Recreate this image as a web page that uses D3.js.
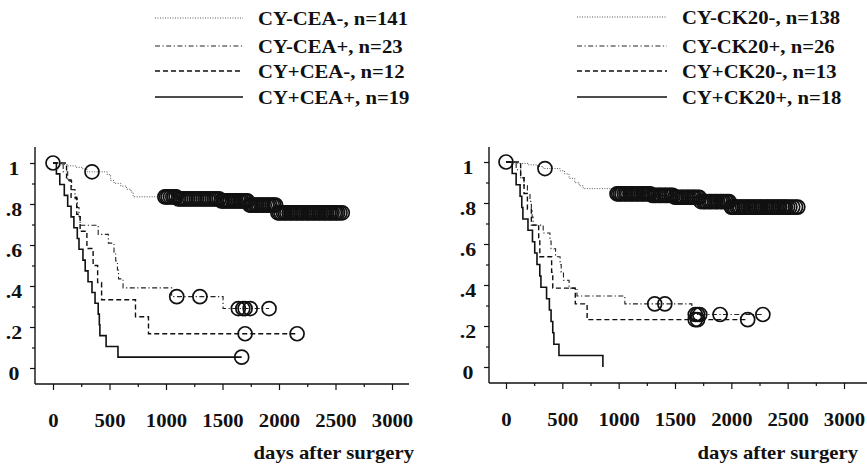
<!DOCTYPE html>
<html>
<head>
<meta charset="utf-8">
<script src="https://cdn.jsdelivr.net/npm/d3@7"></script>
<style>
  body { margin: 0; background: #fff; }
  svg text { font-family: "Times New Roman", "Liberation Serif", serif; font-weight: 700; fill: #111; }
</style>
</head>
<body>
<svg width="867" height="468"></svg>
<script>
// legend labels
const ceaLabels = ["CY-CEA-, n=141", "CY-CEA+, n=23", "CY+CEA-, n=12", "CY+CEA+, n=19"];
const ck20Labels = ["CY-CK20-, n=138", "CY-CK20+, n=26", "CY+CK20-, n=13", "CY+CK20+, n=18"];

const xTicks = [0, 500, 1000, 1500, 2000, 2500, 3000];
const xMinorTicks = [250, 750, 1250, 1750, 2250, 2750];
const yTicks = [0, 0.2, 0.4, 0.6, 0.8, 1];
const yTickLabels = ["0", ".2", ".4", ".6", ".8", "1"];
const yMinorTicks = [0.1, 0.3, 0.5, 0.7, 0.9];

// Kaplan-Meier steps [day, survival] and censored days, CEA panel
const ceaNegNegSteps = [[0,1],[60,.993],[130,.986],[200,.979],[260,.972],[300,.957],[480,.943],[510,.915],[540,.901],[600,.887],[650,.872],[690,.858],[710,.835],[1100,.825],[1480,.815],[1740,.795],[1990,.757]];
const ceaNegNegCensor = [0,345,990,1005,1020,1040,1060,1075,1090,1110,1130,1150,1170,1190,1210,1230,1250,1270,1290,1310,1330,1350,1370,1390,1410,1430,1450,1470,1490,1505,1520,1540,1555,1570,1590,1605,1620,1640,1655,1670,1690,1705,1720,1740,1755,1770,1790,1805,1820,1840,1855,1870,1890,1905,1920,1940,1955,1970,1990,2005,2020,2040,2055,2070,2090,2105,2120,2140,2155,2170,2190,2205,2220,2240,2255,2270,2290,2305,2320,2340,2355,2370,2390,2405,2420,2440,2455,2470,2490,2505,2520,2540,2560];
const ceaNegPosSteps = [[0,1],[90,.957],[130,.913],[165,.87],[195,.826],[215,.783],[230,.739],[240,.696],[400,.652],[490,.609],[540,.565],[555,.522],[570,.478],[580,.435],[620,.391],[1050,.348],[1505,.29]];
const ceaNegPosCensor = [1095,1300,1640,1680,1700,1745,1912];
const ceaPosNegSteps = [[0,1],[120,.917],[160,.833],[210,.75],[240,.667],[300,.583],[355,.5],[395,.417],[430,.333],[730,.25],[845,.167]];
const ceaPosNegCensor = [1700,2160];
const ceaPosPosSteps = [[0,1],[30,.947],[60,.895],[100,.842],[130,.789],[160,.737],[185,.684],[215,.632],[230,.579],[265,.526],[285,.474],[310,.421],[345,.368],[372,.316],[400,.263],[410,.211],[415,.158],[470,.105],[575,.053]];
const ceaPosPosCensor = [1670];

// CK20 panel
const ck20NegNegSteps = [[0,1],[100,.993],[200,.986],[280,.978],[330,.968],[480,.957],[520,.942],[560,.92],[610,.899],[650,.884],[685,.87],[980,.845],[1300,.837],[1500,.828],[1720,.807],[1990,.78]];
const ck20NegNegCensor = [0,346,985,1000,1015,1030,1050,1065,1080,1100,1115,1130,1150,1165,1180,1200,1215,1230,1250,1265,1280,1300,1315,1330,1350,1365,1380,1400,1415,1430,1450,1465,1480,1500,1515,1530,1550,1565,1580,1600,1615,1630,1650,1665,1680,1700,1715,1730,1750,1765,1780,1800,1815,1830,1850,1865,1880,1900,1915,1930,1950,1965,1980,2000,2015,2030,2050,2065,2080,2100,2115,2130,2150,2165,2180,2200,2215,2230,2250,2265,2280,2300,2315,2330,2350,2365,2380,2400,2415,2430,2450,2465,2480,2500,2520,2545,2570,2590];
const ck20NegPosSteps = [[0,1],[90,.962],[130,.923],[160,.885],[190,.846],[213,.808],[225,.769],[232,.731],[240,.692],[330,.654],[390,.615],[400,.577],[440,.538],[480,.5],[490,.462],[510,.423],[560,.385],[630,.346],[1055,.308],[1650,.256]];
const ck20NegPosCensor = [1320,1410,1680,1700,1720,1900,2280];
const ck20PosNegSteps = [[0,1],[130,.923],[160,.846],[190,.769],[225,.692],[290,.615],[300,.538],[405,.462],[415,.385],[615,.308],[720,.231]];
const ck20PosNegCensor = [1680,1700,2145];
const ck20PosPosSteps = [[0,1],[55,.944],[90,.889],[125,.833],[140,.778],[150,.722],[195,.667],[235,.611],[255,.556],[275,.5],[300,.444],[310,.389],[360,.333],[385,.278],[400,.222],[415,.167],[425,.111],[470,.056],[860,0]];
const ck20PosPosCensor = [];

const styles = [
  { dash: "1,1.5", width: 1, color: "#555" },
  { dash: "5,2.5,1.2,2.5", width: 1.1, color: "#222" },
  { dash: "5,3", width: 1.4, color: "#111" },
  { dash: null, width: 1.6, color: "#111" }
];

const stretch = 1.15; // the scan is wider than a normal Times face

const svg = d3.select("svg");

function drawPanel(opt) {
  const g = svg.append("g");
  const x = d3.scaleLinear().domain([0, 3000]).range(opt.xRange);
  const y = d3.scaleLinear().domain([0, 1]).range(opt.yRange);

  // axis lines
  g.append("line")
    .attr("x1", opt.axisX).attr("x2", opt.axisX)
    .attr("y1", opt.axisTop).attr("y2", opt.axisY)
    .attr("stroke", "#111").attr("stroke-width", 1.4);
  g.append("line")
    .attr("x1", opt.axisX).attr("x2", opt.axisRight)
    .attr("y1", opt.axisY).attr("y2", opt.axisY)
    .attr("stroke", "#111").attr("stroke-width", 1.4);

  // x ticks
  const xa = g.append("g")
    .attr("transform", `translate(0,${opt.axisY})`)
    .call(d3.axisBottom(x).tickValues(xTicks).tickSize(6).tickFormat(d3.format("d")));
  xa.select(".domain").remove();
  xa.selectAll("text")
    .attr("y", 0).attr("dy", null)
    .attr("transform", `translate(0,43) scale(${stretch},1)`)
    .style("font-size", "18px");
  const xm = g.append("g")
    .attr("transform", `translate(0,${opt.axisY})`)
    .call(d3.axisBottom(x).tickValues(xMinorTicks).tickSize(3).tickFormat(""));
  xm.select(".domain").remove();

  // y ticks (labels sit a little under their tick)
  const ya = g.append("g")
    .attr("transform", `translate(${opt.axisX},0)`)
    .call(d3.axisLeft(y).tickValues(yTicks).tickSize(5)
      .tickFormat((d, i) => yTickLabels[i]));
  ya.select(".domain").remove();
  ya.selectAll("text")
    .attr("x", 0).attr("dy", null).attr("text-anchor", "middle")
    .attr("transform", `translate(-21,11) scale(${stretch},1)`)
    .style("font-size", "19px");
  const ym = g.append("g")
    .attr("transform", `translate(${opt.axisX},0)`)
    .call(d3.axisLeft(y).tickValues(yMinorTicks).tickSize(3).tickFormat(""));
  ym.select(".domain").remove();
  g.selectAll(".tick line").attr("stroke", "#111").attr("stroke-width", 1.2);

  const line = d3.line().curve(d3.curveStepAfter).x(d => x(d[0])).y(d => y(d[1]));
  const bis = d3.bisector(d => d[0]).right;

  opt.series.forEach((s, i) => {
    const st = styles[i];
    const lastCensor = s.censor.length ? d3.max(s.censor) : 0;
    const end = Math.max(lastCensor, s.steps[s.steps.length - 1][0]);
    const pts = s.steps.concat([[end, s.steps[s.steps.length - 1][1]]]);
    g.append("path")
      .attr("d", line(pts))
      .attr("fill", "none")
      .attr("stroke", st.color)
      .attr("stroke-width", st.width)
      .attr("stroke-dasharray", st.dash);

    g.selectAll(null)
      .data(s.censor)
      .enter()
      .append("circle")
      .attr("cx", d => x(d))
      .attr("cy", d => y(s.steps[bis(s.steps, d) - 1][1]))
      .attr("r", 7)
      .attr("fill", "none")
      .attr("stroke", "#111")
      .attr("stroke-width", 1.7);
  });

  // legend
  opt.labels.forEach((lab, i) => {
    const st = styles[i];
    const ly = opt.legendY[i];
    g.append("line")
      .attr("x1", opt.legendX[0]).attr("x2", opt.legendX[1])
      .attr("y1", ly).attr("y2", ly)
      .attr("stroke", st.color).attr("stroke-width", st.width)
      .attr("stroke-dasharray", st.dash);
    g.append("text")
      .attr("transform", `translate(${opt.legendText},${ly + 7}) scale(${stretch},1)`)
      .style("font-size", "18px")
      .text(lab);
  });

  g.append("text")
    .attr("transform", `translate(${opt.titleX},459) scale(${stretch},1)`)
    .attr("text-anchor", "end")
    .style("font-size", "18px")
    .text("days after surgery");
}

drawPanel({
  xRange: [53, 392], yRange: [368, 163],
  axisX: 35, axisY: 384, axisTop: 147, axisRight: 409,
  legendX: [155, 243], legendText: 258, legendY: [18, 46, 71, 97],
  titleX: 414, labels: ceaLabels,
  series: [
    { steps: ceaNegNegSteps, censor: ceaNegNegCensor },
    { steps: ceaNegPosSteps, censor: ceaNegPosCensor },
    { steps: ceaPosNegSteps, censor: ceaPosNegCensor },
    { steps: ceaPosPosSteps, censor: ceaPosPosCensor }
  ]
});

drawPanel({
  xRange: [506, 844], yRange: [367, 162],
  axisX: 489, axisY: 383, axisTop: 147, axisRight: 867,
  legendX: [577, 667], legendText: 682, legendY: [17, 46, 71, 97],
  titleX: 858, labels: ck20Labels,
  series: [
    { steps: ck20NegNegSteps, censor: ck20NegNegCensor },
    { steps: ck20NegPosSteps, censor: ck20NegPosCensor },
    { steps: ck20PosNegSteps, censor: ck20PosNegCensor },
    { steps: ck20PosPosSteps, censor: ck20PosPosCensor }
  ]
});
</script>
</body>
</html>
